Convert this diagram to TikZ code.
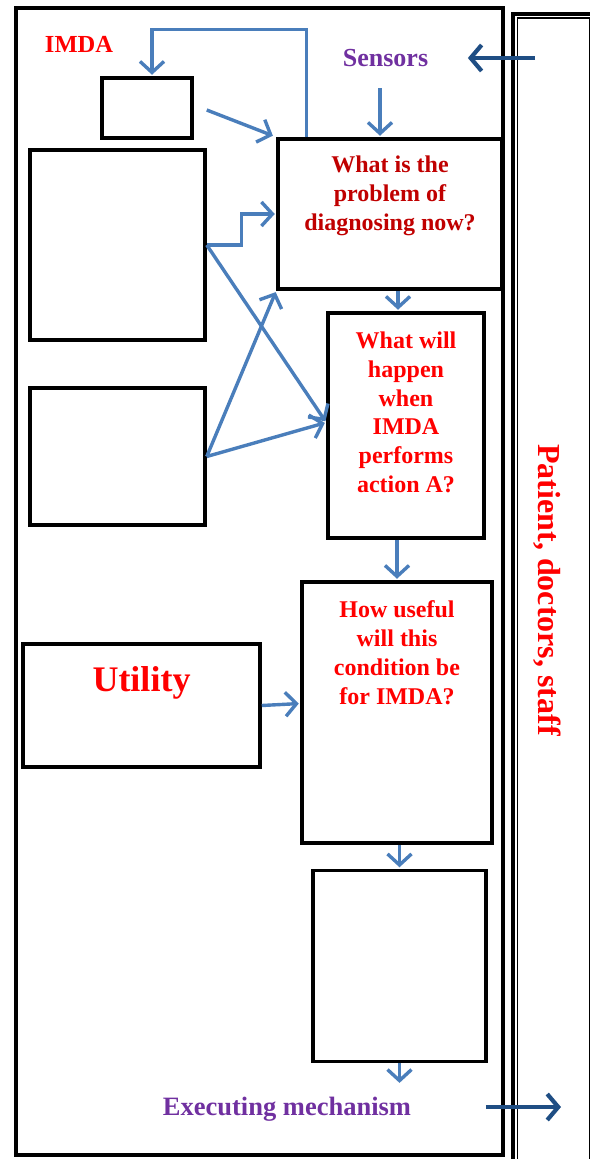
\documentclass[tikz,border=0pt]{standalone}
\usepackage{fontspec}
\setmainfont{Liberation Serif}
\usepackage{xcolor}
\usetikzlibrary{arrows.meta, positioning, calc}

\definecolor{flowblue}{HTML}{4A7EBB}
\definecolor{inkblue}{HTML}{1F4E84}
\definecolor{qdarkred}{HTML}{C00000}
\definecolor{qred}{HTML}{FF0000}
\definecolor{labelpurple}{HTML}{7030A0}

\begin{document}
\begin{tikzpicture}[
    x=1pt, y=1pt,
    >={Straight Barb[length=11pt,width=24pt]},
    line width=3.5pt,
    font=\bfseries,
    box/.style={draw=black, line width=3.5pt, inner sep=0pt},
    flow/.style={->, draw=flowblue, line width=3.4pt, shorten >=1.5pt},
    inflow/.style={-{Straight Barb[length=11pt,width=26pt]}, draw=inkblue, line width=4.2pt},
    qtext/.style={font=\bfseries\fontsize{24}{28.7}\selectfont, align=center, inner sep=0pt}
]

\useasboundingbox (0,0) rectangle (592,-1159);

% =========================================================
% LEFT: the agent and its boxes
% =========================================================
\node[box, minimum width=487pt, minimum height=1147pt] (agent) at (259.5,-581.5) {};
\node[text=qred, font=\bfseries\fontsize{24.5}{27}\selectfont, inner sep=0pt] (imda) at (79,-44) {IMDA};

\node[box, minimum width=90pt, minimum height=60pt] (smallbox) at (147,-108) {};
\node[box, minimum width=175pt, minimum height=190pt] (leftA) at (117.5,-245) {};
\node[box, minimum width=175pt, minimum height=137pt] (leftB) at (117.5,-456.5) {};
\node[box, minimum width=237pt, minimum height=123pt] (utility) at (141.5,-705.5) {};
\node[text=qred, font=\bfseries\fontsize{36}{40}\selectfont, inner sep=0pt, below=23pt of utility.north] (utiltext) {Utility};

% question boxes
\node[box, minimum width=224pt, minimum height=150pt] (qnow) at (390,-214) {};
\node[qtext, text=qdarkred, below=17pt of qnow.north] (qnowtext) {What is the\\problem of\\diagnosing now?};

\node[box, minimum width=156pt, minimum height=225pt] (qaction) at (406,-425.5) {};
\node[qtext, text=qred, below=19pt of qaction.north] (qactiontext) {What will\\happen\\when\\IMDA\\performs\\action A?};

\node[box, minimum width=190pt, minimum height=261pt] (qutil) at (397,-712.5) {};
\node[qtext, text=qred, below=19pt of qutil.north] (qutiltext) {How useful\\will this\\condition be\\for IMDA?};

\node[box, minimum width=173pt, minimum height=191pt] (execbox) at (399.5,-966) {};

% in and out
\node[text=labelpurple, font=\bfseries\fontsize{26}{29}\selectfont, inner sep=0pt] (sensors) at (385.5,-58) {Sensors};
\node[text=labelpurple, font=\bfseries\fontsize{26.5}{29}\selectfont, inner sep=0pt, anchor=base] (execmech) at (287,-1115) {Executing mechanism};

% =========================================================
% RIGHT: the people round the agent
% =========================================================
\node[draw=black, line width=1.2pt, minimum width=72pt, minimum height=1162pt, inner sep=0pt] (people) at (553.5,-599) {};
\draw[line width=3.5pt] ([xshift=-4pt]people.south west) |- ([yshift=3.5pt]people.north east);
\node[text=qred, font=\bfseries\fontsize{32}{35}\selectfont, rotate=-90, anchor=base, inner sep=0pt] (peopletext) at (538,-590) {Patient, doctors, staff};

\coordinate (sensorin) at (535,-58);
\coordinate (execout) at (561,-1107);

% =========================================================
% connectors
% =========================================================
\draw[flow] ([xshift=30pt]qnow.north west) -- ++(0,108) -| ([xshift=5pt]smallbox.north);
\draw[flow] ([xshift=13pt,yshift=-2pt]smallbox.east) -- ([shift={(-2pt,1pt)}]qnow.north west);
\draw[flow] ([shift={(-10pt,-20pt)}]qnow.north |- sensors.south) -- ([xshift=-10pt]qnow.north);
\draw[inflow] (sensorin) -- ([xshift=38pt]sensors.east);

\draw[flow] (leftA.east) -- ++(35pt,0) |- (qnow.west);
\draw[flow] (leftA.east) -- ([yshift=3pt]qaction.west);
\draw[flow] (leftB.east) -- (qnow.south west);
\draw[flow] (leftB.east) -- ([yshift=3pt]qaction.west);

\draw[flow] ([xshift=8pt]qnow.south) -- ([xshift=8pt]qnow.south |- qaction.north);
\draw[flow] (qutil.north |- qaction.south) -- (qutil.north);
\draw[flow] (utility.east) -- ([yshift=9pt]qutil.west);
\draw[flow] (execbox.north |- qutil.south) -- (execbox.north);
\draw[flow, shorten >=12pt] (execbox.south) -- (execbox.south |- execmech.north);
\draw[inflow] ([xshift=73pt]execmech.east |- execout) -- (execout);

\end{tikzpicture}
\end{document}
